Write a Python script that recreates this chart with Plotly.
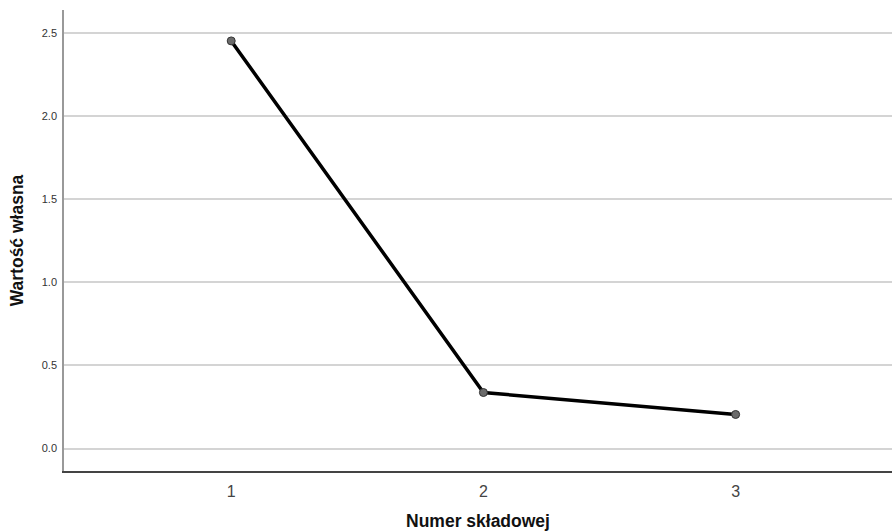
import plotly.graph_objects as go

components = [1, 2, 3]
eigenvalues = [2.452, 0.337, 0.205]
y_ticks = [0.0, 0.5, 1.0, 1.5, 2.0, 2.5]
y_tick_labels = ["0.0", "0.5", "1.0", "1.5", "2.0", "2.5"]

fig = go.Figure()
fig.add_trace(go.Scatter(
    x=components, y=eigenvalues, mode="lines+markers",
    line=dict(color="black", width=3.5),
    marker=dict(size=8, color="#6b6b6b", line=dict(color="#333333", width=1)),
    showlegend=False,
))

fig.update_layout(
    width=892, height=531,
    margin=dict(l=64, r=0, t=10, b=60, autoexpand=False),
    paper_bgcolor="white", plot_bgcolor="white",
    font=dict(family="Arial, Liberation Sans, sans-serif", color="#333333"),
    xaxis=dict(
        range=[0.337, 3.62], tickvals=components, ticktext=[str(c) for c in components],
        showgrid=False, zeroline=False, showline=True, linecolor="#444444", linewidth=1.5,
        ticks="", tickfont=dict(size=16, color="#444444"), automargin=False,
        ticklabelstandoff=5,
        title=dict(text="<b>Numer składowej</b>", font=dict(size=17.5, color="#111111"), standoff=20),
    ),
    yaxis=dict(
        range=[-0.135, 2.638], tickvals=y_ticks, ticktext=y_tick_labels,
        showgrid=True, gridcolor="#d4d4d4", gridwidth=1.5, zeroline=False,
        showline=True, linecolor="#999999", linewidth=1.5, automargin=False,
        ticks="", tickfont=dict(size=11, color="#333333"), ticklabelstandoff=3,
        title=dict(text="<b>Wartość własna</b>", font=dict(size=17.5, color="#111111"), standoff=14),
    ),
)

fig.write_html("out.html", config={"displayModeBar": False},
               post_script="document.body.style.margin='0';")
